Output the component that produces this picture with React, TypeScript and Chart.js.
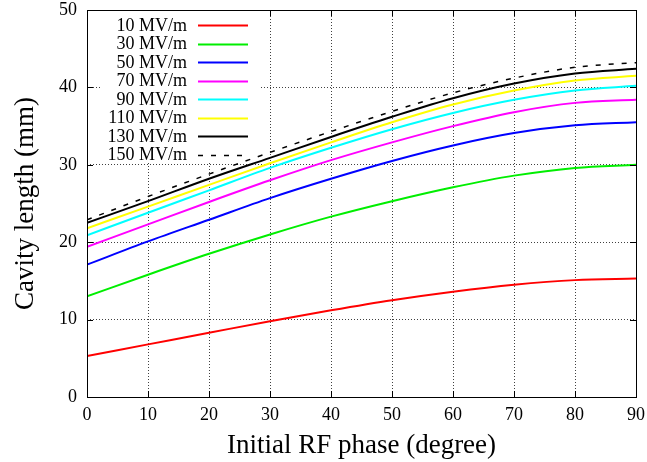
import React, { useEffect, useRef } from "react";
import { Chart, registerables } from "chart.js";

Chart.register(...registerables);

const phases = [0, 10, 20, 30, 40, 50, 60, 70, 80, 90];
const e10 = [5.3, 6.8, 8.3, 9.8, 11.2, 12.5, 13.6, 14.5, 15.1, 15.3];
const e30 = [13.0, 15.8, 18.5, 21.0, 23.3, 25.3, 27.1, 28.6, 29.6, 30.0];
const e50 = [17.1, 20.1, 22.9, 25.7, 28.2, 30.5, 32.5, 34.1, 35.1, 35.5];
const e70 = [19.4, 22.3, 25.2, 28.0, 30.6, 32.9, 35.0, 36.8, 38.0, 38.4];
const e90 = [20.9, 23.8, 26.7, 29.6, 32.2, 34.6, 36.7, 38.4, 39.6, 40.2];
const e110 = [21.8, 24.6, 27.4, 30.2, 32.9, 35.5, 37.8, 39.6, 40.9, 41.5];
const e130 = [22.5, 25.3, 28.2, 30.9, 33.6, 36.2, 38.6, 40.5, 41.8, 42.4];
const e150 = [22.9, 25.9, 28.8, 31.6, 34.3, 36.9, 39.3, 41.2, 42.6, 43.2];

const seriesLabels = ["10 MV/m", "30 MV/m", "50 MV/m", "70 MV/m", "90 MV/m", "110 MV/m", "130 MV/m", "150 MV/m"];
const seriesValues = [e10, e30, e50, e70, e90, e110, e130, e150];
const seriesColors = ["#ff0000", "#00ee00", "#0000ff", "#ff00ff", "#00ffff", "#ffff00", "#000000", "#000000"];
const seriesDash: number[][] = [[], [], [], [], [], [], [], [5, 8]];
const seriesWidth = [2, 2, 2, 2, 2, 2, 2, 1.5];

const xTicks = [0, 10, 20, 30, 40, 50, 60, 70, 80, 90];
const yTicks = [0, 10, 20, 30, 40, 50];

const FONT = "'Liberation Serif', 'DejaVu Serif', serif";

const framePlugin = {
  id: "gnuframe",
  beforeDatasetsDraw(chart: any) {
    const ctx = chart.ctx;
    ctx.save();
    ctx.fillStyle = "#ffffff";
    ctx.fillRect(100, 11, 159, 152);
    ctx.restore();
  },
  afterDatasetsDraw(chart: any) {
    const ctx = chart.ctx;
    const a = chart.chartArea;
    const xs = chart.scales.x;
    const ys = chart.scales.y;
    ctx.save();
    ctx.strokeStyle = "#000";
    ctx.lineWidth = 1;
    ctx.setLineDash([]);
    ctx.strokeRect(Math.round(a.left) + 0.5, Math.round(a.top) + 0.5, Math.round(a.right - a.left), Math.round(a.bottom - a.top));
    const T = 6;
    ctx.beginPath();
    xTicks.forEach((v) => {
      const px = Math.round(xs.getPixelForValue(v)) + 0.5;
      ctx.moveTo(px, a.bottom);
      ctx.lineTo(px, a.bottom - T);
      if (!(px > 100 && px < 259)) {
        ctx.moveTo(px, a.top);
        ctx.lineTo(px, a.top + T);
      }
    });
    yTicks.forEach((v) => {
      const py = Math.round(ys.getPixelForValue(v)) + 0.5;
      ctx.moveTo(a.left, py);
      ctx.lineTo(a.left + T, py);
      ctx.moveTo(a.right, py);
      ctx.lineTo(a.right - T, py);
    });
    ctx.stroke();
    ctx.font = `18px ${FONT}`;
    ctx.textAlign = "right";
    ctx.textBaseline = "middle";
    ctx.fillStyle = "#000";
    seriesLabels.forEach((lab, i) => {
      const y = 25 + i * 18.5;
      ctx.fillText(lab, 187, y + 1);
      ctx.beginPath();
      ctx.strokeStyle = seriesColors[i];
      ctx.lineWidth = seriesWidth[i];
      ctx.setLineDash(seriesDash[i]);
      ctx.moveTo(198, Math.round(y) + 0.5);
      ctx.lineTo(248, Math.round(y) + 0.5);
      ctx.stroke();
    });
    ctx.restore();
  },
};

const zeroPad = (s: any) => {
  s.paddingTop = 0;
  s.paddingBottom = 0;
  s.paddingLeft = 0;
  s.paddingRight = 0;
};

export default function App() {
  const ref = useRef<HTMLCanvasElement>(null);
  useEffect(() => {
    if (!ref.current) return;
    const datasets = seriesValues.map((vals, i) => ({
      label: seriesLabels[i],
      data: phases.map((p, j) => ({ x: p, y: vals[j] })),
      borderColor: seriesColors[i],
      backgroundColor: seriesColors[i],
      borderWidth: seriesWidth[i],
      borderDash: seriesDash[i],
      pointRadius: 0,
      fill: false,
      cubicInterpolationMode: "monotone" as const,
    }));
    const chart = new Chart(ref.current, {
      type: "line",
      data: { datasets },
      plugins: [framePlugin],
      options: {
        animation: false,
        responsive: false,
        layout: { padding: { top: 10, right: 11, left: 0, bottom: 0 } },
        plugins: { legend: { display: false }, tooltip: { enabled: false } },
        scales: {
          x: {
            type: "linear",
            min: 0,
            max: 90,
            afterFit: (s: any) => {
              s.height = 65;
              zeroPad(s);
            },
            afterBuildTicks: (s: any) => {
              s.ticks = xTicks.map((v) => ({ value: v }));
            },
            ticks: { color: "#000", padding: 7, font: { family: FONT, size: 18 } },
            grid: { drawTicks: false, color: "rgba(0,0,0,0.75)", lineWidth: 1 },
            border: { display: false, dash: [1, 2] },
            title: {
              display: true,
              text: "Initial RF phase (degree)",
              color: "#000",
              font: { family: FONT, size: 27 },
              padding: { top: 0, bottom: 0 },
            },
          },
          y: {
            type: "linear",
            min: 0,
            max: 50,
            afterFit: (s: any) => {
              s.width = 87;
              zeroPad(s);
            },
            afterBuildTicks: (s: any) => {
              s.ticks = yTicks.map((v) => ({ value: v }));
            },
            ticks: { color: "#000", padding: 10, font: { family: FONT, size: 18 } },
            grid: { drawTicks: false, color: "rgba(0,0,0,0.75)", lineWidth: 1 },
            border: { display: false, dash: [1, 2] },
            title: {
              display: true,
              text: "Cavity length (mm)",
              color: "#000",
              font: { family: FONT, size: 27 },
              padding: { top: 10, bottom: 0 },
            },
          },
        },
      },
    });
    return () => chart.destroy();
  }, []);
  return (
    <div style={{ position: "fixed", left: 0, top: 0, width: 647, height: 462, background: "#fff" }}>
      <canvas ref={ref} width={647} height={462} />
    </div>
  );
}
